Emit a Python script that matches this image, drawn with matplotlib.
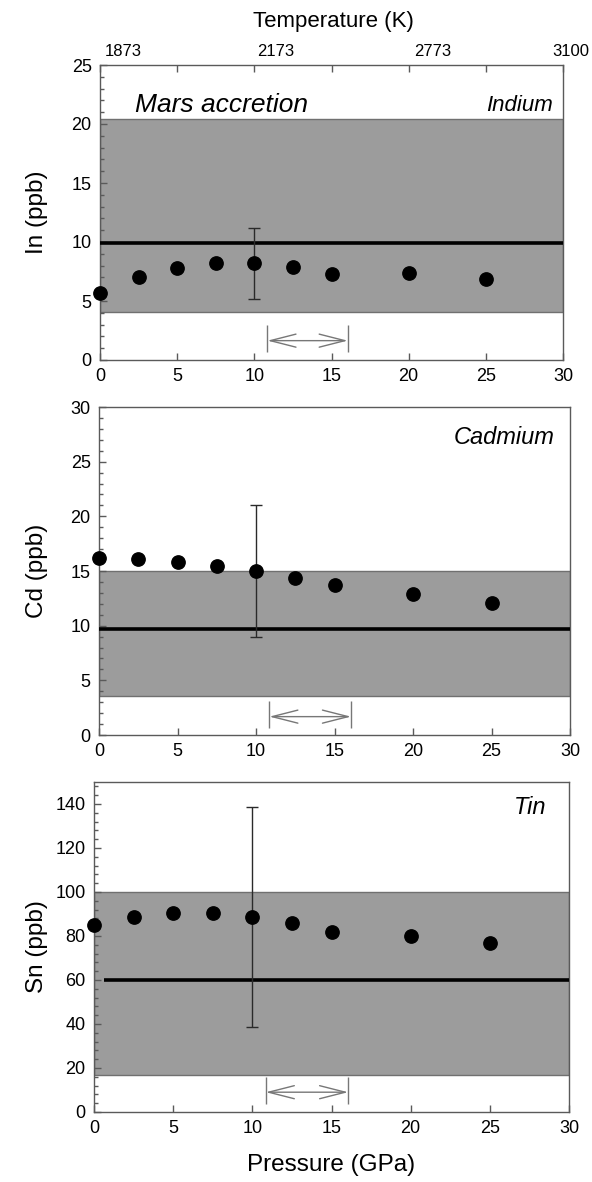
import matplotlib
matplotlib.use("Agg")
import matplotlib.pyplot as plt
from matplotlib.ticker import MultipleLocator
import matplotlib.transforms as mtransforms

plt.rcParams['font.family'] = ['Liberation Sans', 'DejaVu Sans']

# ---- data -------------------------------------------------------------
pressure = [0, 2.5, 5, 7.5, 10, 12.5, 15, 20, 25]          # GPa

indium  = [5.7, 7.0, 7.8, 8.2, 8.2, 7.85, 7.25, 7.35, 6.9]   # ppb
cadmium = [16.2, 16.1, 15.85, 15.45, 15.0, 14.35, 13.75, 12.9, 12.1]
tin     = [84.8, 88.7, 90.6, 90.6, 88.7, 85.7, 81.7, 79.9, 76.6]

# representative uncertainty at 10 GPa
err_p = 10
indium_err, cadmium_err, tin_err = 3.0, 6.0, 50.0

# Martian mantle estimates: mean and range
indium_mean, indium_range = 9.9, (4.1, 20.4)
cadmium_mean, cadmium_range = 9.7, (3.6, 15.0)
tin_mean, tin_range = 60.0, (16.6, 100.0)

# pressure range of accretion (double arrow)
accretion_p = (10.85, 16.05)

temp_labels = ['1873', '2173', '2773', '3100']
temp_pos = [0, 10, 20, 30]

# ---- layout -----------------------------------------------------------
W, H = 592, 1182
fig = plt.figure(figsize=(W / 100, H / 100), dpi=100)


def rect(l, r, t, b):
    return [l / W, 1 - b / H, (r - l) / W, (b - t) / H]


SPINE = '#5a5a5a'
ARROW = '#777777'


def panel(box, vals, err, mean, rng, ylim, ymajor, yminor, ylabel,
          elem, elem_xy, elem_size, arrow_y, bar_lo, bar_hi, mean_x0=0.0):
    ax = fig.add_axes(rect(*box))
    ax.set_xlim(0, 30)
    ax.set_ylim(*ylim)
    ax.axhspan(rng[0], rng[1], facecolor='#9c9c9c', edgecolor='#707070',
               lw=1.0, zorder=1)
    ax.hlines(mean, mean_x0, 30, colors='black', lw=2.6, zorder=3)
    ax.plot(pressure, vals, 'o', color='black', ms=9.6, zorder=5,
            clip_on=False)
    ax.errorbar(err_p, vals[pressure.index(err_p)], yerr=err, fmt='none',
                ecolor='#2a2a2a', elinewidth=1.0, capsize=4, capthick=1.0,
                zorder=4)
    # double arrow with end bars
    ax.annotate('', xy=(accretion_p[0], arrow_y),
                xytext=(accretion_p[1], arrow_y),
                arrowprops=dict(arrowstyle='<->,head_length=1.85,head_width=0.47',
                                color=ARROW, lw=1.0,
                                shrinkA=0, shrinkB=0), zorder=3)
    ax.vlines(accretion_p, bar_lo, bar_hi, colors=ARROW, lw=1.0, zorder=3)

    ax.xaxis.set_major_locator(MultipleLocator(5))
    ax.yaxis.set_major_locator(MultipleLocator(ymajor))
    ax.yaxis.set_minor_locator(MultipleLocator(yminor))
    ax.tick_params(which='both', direction='in', color=SPINE, width=1.0,
                   labelsize=13, right=False, top=False)
    ax.tick_params(which='major', length=5, pad=6)
    ax.tick_params(which='minor', length=3)
    for s in ax.spines.values():
        s.set_color(SPINE)
        s.set_linewidth(1.0)
    ax.set_ylabel(ylabel, fontsize=17.5)
    l, r, t, b = box
    ax.yaxis.set_label_coords((48 - l) / (r - l), 0.5)
    ax.text(elem_xy[0], elem_xy[1], elem, ha='right', va='center',
            fontsize=elem_size, style='italic')
    return ax


ax1 = panel((100, 563, 65, 360), indium, indium_err, indium_mean,
            indium_range, (0, 25), 5, 1, 'In (ppb)', 'Indium', (29.35, 21.6),
            16, 1.64, 0.7, 3.0)
ax1.text(2.3, 21.6, 'Mars accretion', ha='left', va='center', fontsize=19,
         style='italic')

ax2 = panel((99, 570, 407, 735), cadmium, cadmium_err, cadmium_mean,
            cadmium_range, (0, 30), 5, 1, 'Cd (ppb)', 'Cadmium', (29.0, 27.2),
            17, 1.68, 0.67, 3.1)

ax3 = panel((94, 569, 782, 1112), tin, tin_err, tin_mean, tin_range,
            (0, 150), 20, 4, 'Sn (ppb)', 'Tin', (28.55, 138.6),
            17, 9.0, 3.6, 16.1, mean_x0=0.6)
ax3.set_xlabel('Pressure (GPa)', fontsize=17.5, labelpad=12)

# temperature scale along the top of the first panel
ax1.tick_params(which='major', top=True)
offsets = [5, 3, 5, -11]
for lab, p, dx in zip(temp_labels, temp_pos, offsets):
    tr = mtransforms.blended_transform_factory(ax1.transData, ax1.transAxes)
    tr = tr + mtransforms.ScaledTranslation(dx / 100, 0, fig.dpi_scale_trans)
    ax1.text(p, 1.02, lab, transform=tr, ha='left', va='bottom', fontsize=12,
             clip_on=False)
fig.text(333 / W, 1 - 22 / H, 'Temperature (K)', ha='center', va='center',
         fontsize=16)

fig.savefig('out.png', dpi=100)
